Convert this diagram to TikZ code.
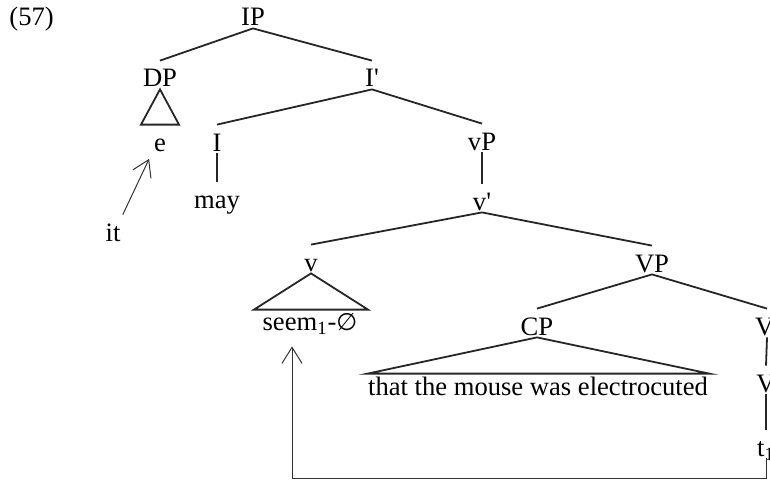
\documentclass[tikz,border=0pt]{standalone}
\usepackage{fontspec}
\setmainfont{Liberation Serif}[Ligatures=TeXOff]
\newfontfamily\symfont{DejaVu Sans}
\usetikzlibrary{arrows.meta,calc}
\tikzset{
  treeLabel/.style={anchor=base, inner sep=1pt, font=\fontsize{13.3}{16}\selectfont, text height=12pt, text depth=0pt},
  treeEdge/.style={line width=0.9pt, draw=black!85},
  roofEdge/.style={line width=0.9pt, draw=black!85, line join=miter},
  moveArrow/.style={-{Straight Barb[length=8pt,width=10pt]}, line width=0.5pt, draw=black!80}
}

\begin{document}
\begin{tikzpicture}[x=0.5pt, y=-0.5pt]
  \useasboundingbox (0,0) rectangle (770,481);

  \node[treeLabel, anchor=base west] (exnum) at (7,26) {(57)};

  % upper part of the tree
  \node[treeLabel] (IP) at (253,26) {IP};
  \node[treeLabel] (DP) at (160,87) {DP};
  \node[treeLabel] (Ibar) at (372,87) {I'};
  \node[treeLabel] (e) at (160,151) {e};
  \node[treeLabel] (I) at (217,151) {I};
  \node[treeLabel] (vP) at (482,150) {vP};
  \node[treeLabel] (may) at (217,208) {may};
  \node[treeLabel] (it) at (113,241) {it};
  \node[treeLabel] (vbar) at (482,210) {v'};

  % lower part of the tree
  \node[treeLabel] (v) at (311,271) {v};
  \node[treeLabel] (seem) at (310,330) {seem\textsubscript{1}-{\symfont\fontsize{12}{16}\selectfont ∅}};
  \node[treeLabel] (VP) at (652,272) {VP};
  \node[treeLabel] (CP) at (537,335) {CP};
  \node[treeLabel] (clause) at (538,395) {that the mouse was electrocuted};
  \node[treeLabel] (Vbar) at (767,335) {V'};
  \node[treeLabel] (V) at (766,392) {V};
  \node[treeLabel] (t1) at (766,456) {t\textsubscript{1}};

  \draw[treeEdge] (IP.south) -- (DP.north);
  \draw[treeEdge] (IP.south) -- (Ibar.north);
  \draw[roofEdge] (DP.south) -- ($(e.north)+(-19,0)$) -- ($(e.north)+(19,0)$) -- cycle;
  \draw[treeEdge] (Ibar.south) -- (I.north);
  \draw[treeEdge] (Ibar.south) -- (vP.north);
  \draw[treeEdge] (I.south) -- (may.north);
  \draw[treeEdge] (vP.south) -- (vbar.north);
  \draw[treeEdge] (vbar.south) -- (v.north);
  \draw[treeEdge] (vbar.south) -- (VP.north);
  \draw[roofEdge] (v.south) -- ($(seem.north)+(-56,6)$) -- ($(seem.north)+(58,6)$) -- cycle;
  \draw[treeEdge] (VP.south) -- (CP.north);
  \draw[treeEdge] (VP.south) -- (Vbar.north);
  \draw[roofEdge] (CP.south) -- ($(clause.north west)+(2,5)$) -- ($(clause.north east)+(-1,5)$) -- cycle;
  \draw[treeEdge] (Vbar.south) -- (V.north);
  \draw[treeEdge] (V.south) -- (t1.north);

  % movement arrows
  \coordinate (seemFoot) at ($(seem.south)+(-18,14)$);
  \draw[moveArrow, shorten >=3pt] (it.north east) -- (e.south west);
  \draw[moveArrow] (t1.south) -- ++(0,20) -| (seemFoot);
\end{tikzpicture}
\end{document}
